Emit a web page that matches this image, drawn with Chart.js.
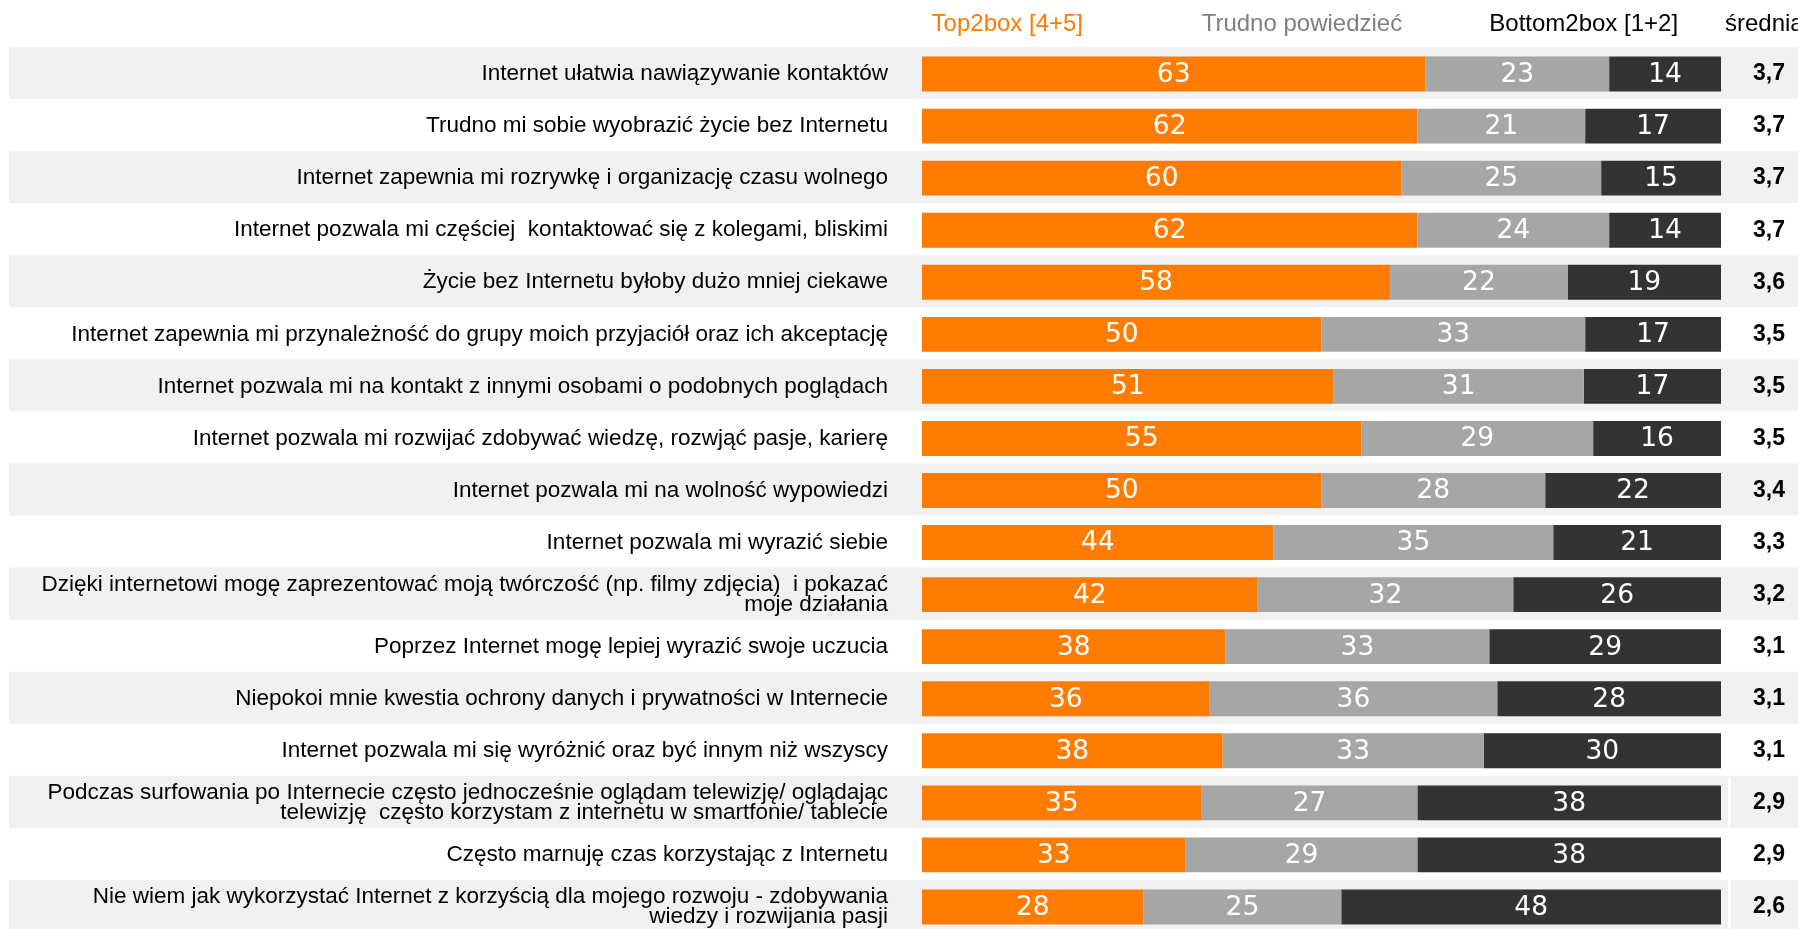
<!DOCTYPE html>
<html>
<head>
<meta charset="utf-8">
<title>Internet - postawy</title>
<script src="https://cdn.jsdelivr.net/npm/chart.js@4.4.0/dist/chart.umd.min.js"></script>
<style>
  html, body { margin: 0; padding: 0; background: #fff; overflow: hidden; }
  #wrap { position: relative; width: 1798px; height: 933px; }
</style>
</head>
<body>
<div id="wrap"><canvas id="chart"></canvas></div>
<script>
var statements = [
  "Internet ułatwia nawiązywanie kontaktów",
  "Trudno mi sobie wyobrazić życie bez Internetu",
  "Internet zapewnia mi rozrywkę i organizację czasu wolnego",
  "Internet pozwala mi częściej  kontaktować się z kolegami, bliskimi",
  "Życie bez Internetu byłoby dużo mniej ciekawe",
  "Internet zapewnia mi przynależność do grupy moich przyjaciół oraz ich akceptację",
  "Internet pozwala mi na kontakt z innymi osobami o podobnych poglądach",
  "Internet pozwala mi rozwijać zdobywać wiedzę, rozwjąć pasje, karierę",
  "Internet pozwala mi na wolność wypowiedzi",
  "Internet pozwala mi wyrazić siebie",
  ["Dzięki internetowi mogę zaprezentować moją twórczość (np. filmy zdjęcia)  i pokazać", "moje działania"],
  "Poprzez Internet mogę lepiej wyrazić swoje uczucia",
  "Niepokoi mnie kwestia ochrony danych i prywatności w Internecie",
  "Internet pozwala mi się wyróżnić oraz być innym niż wszyscy",
  ["Podczas surfowania po Internecie często jednocześnie oglądam telewizję/ oglądając", "telewizję  często korzystam z internetu w smartfonie/ tablecie"],
  "Często marnuję czas korzystając z Internetu",
  ["Nie wiem jak wykorzystać Internet z korzyścią dla mojego rozwoju - zdobywania", "wiedzy i rozwijania pasji"]
];

var top2box    = [63, 62, 60, 62, 58, 50, 51, 55, 50, 44, 42, 38, 36, 38, 35, 33, 28];
var trudno     = [23, 21, 25, 24, 22, 33, 31, 29, 28, 35, 32, 33, 36, 33, 27, 29, 25];
var bottom2box = [14, 17, 15, 14, 19, 17, 17, 16, 22, 21, 26, 29, 28, 30, 38, 38, 48];
var srednia    = ["3,7", "3,7", "3,7", "3,7", "3,6", "3,5", "3,5", "3,5", "3,4", "3,3", "3,2", "3,1", "3,1", "3,1", "2,9", "2,9", "2,6"];

var seriesNames = ["Top2box [4+5]", "Trudno powiedzieć", "Bottom2box [1+2]"];
var sredniaTitle = "średnia";

var colors = ["#ff7c00", "#a6a6a6", "#333333"];
var headerColors = ["#ff7c00", "#808080", "#000000", "#000000"];

// 100% stacked: each row is scaled to its own total
function share(arr, i) {
  var total = top2box[i] + trudno[i] + bottom2box[i];
  return arr[i] / total * 100;
}
function shares(arr) {
  return arr.map(function(v, i) { return share(arr, i); });
}
var rawValues = [top2box, trudno, bottom2box];

var bandsPlugin = {
  id: "bands",
  beforeDraw: function(chart) {
    var ctx = chart.ctx;
    var ys = chart.scales.y;
    var slot = (ys.bottom - ys.top) / statements.length;
    ctx.save();
    ctx.fillStyle = "#f1f1f1";
    for (var i = 0; i < statements.length; i += 2) {
      var yc = ys.getPixelForValue(i);
      ctx.fillRect(9, yc - slot / 2 - 1, chart.width - 9, slot);
    }
    // thin white divider before the "średnia" column in the lower rows
    ctx.fillStyle = "#ffffff";
    var top14 = ys.getPixelForValue(14) - slot / 2;
    ctx.fillRect(chart.chartArea.right + 7, top14, 3, ys.bottom - top14);
    ctx.restore();
  }
};

var headerPlugin = {
  id: "header",
  afterDraw: function(chart) {
    var ctx = chart.ctx;
    var xs = chart.scales.x;
    var names = seriesNames.concat([sredniaTitle]);
    var pos = [xs.getPixelForValue(1.2), xs.getPixelForValue(35), xs.getPixelForValue(71), chart.chartArea.right + 4];
    ctx.save();
    ctx.font = "24px 'Liberation Sans', Arial, sans-serif";
    ctx.textAlign = "left";
    ctx.textBaseline = "middle";
    for (var i = 0; i < names.length; i++) {
      ctx.fillStyle = headerColors[i];
      ctx.fillText(names[i], pos[i], 24);
    }
    ctx.restore();
  }
};

var valueLabels = {
  id: "valueLabels",
  afterDatasetsDraw: function(chart) {
    var ctx = chart.ctx;
    ctx.save();
    ctx.font = "26.5px 'DejaVu Sans', Verdana, sans-serif";
    ctx.fillStyle = "#ffffff";
    ctx.textAlign = "center";
    ctx.textBaseline = "middle";
    chart.data.datasets.forEach(function(ds, d) {
      chart.getDatasetMeta(d).data.forEach(function(bar, i) {
        var cx = (bar.x + bar.base) / 2;
        ctx.fillText(String(rawValues[d][i]), cx, bar.y + 1);
      });
    });
    ctx.restore();
  }
};

// tick padding is meant only sideways; drop the vertical room Chart.js reserves for it
function noVerticalPadding(scale) {
  scale.paddingTop = 0;
  scale.paddingBottom = 0;
}

var chart = new Chart(document.getElementById("chart").getContext("2d"), {
  type: "bar",
  data: {
    labels: statements,
    datasets: [
      { label: seriesNames[0], data: shares(top2box), backgroundColor: colors[0] },
      { label: seriesNames[1], data: shares(trudno), backgroundColor: colors[1] },
      { label: seriesNames[2], data: shares(bottom2box), backgroundColor: colors[2] }
    ]
  },
  options: {
    indexAxis: "y",
    responsive: true,
    maintainAspectRatio: false,
    animation: false,
    layout: { padding: { top: 48, bottom: 0, left: 0, right: 0 } },
    datasets: {
      bar: { categoryPercentage: 1, barPercentage: 0.67, borderWidth: 0 }
    },
    scales: {
      x: { stacked: true, display: false, min: 0, max: 100 },
      y: {
        stacked: true,
        grid: { display: false, drawTicks: false },
        border: { display: false },
        ticks: {
          autoSkip: false,
          padding: 34,
          color: "#000000",
          font: { family: "'Liberation Sans', Arial, sans-serif", size: 22.5, lineHeight: 0.88 }
        },
        afterFit: function(scale) { scale.width = 922; noVerticalPadding(scale); }
      },
      y2: {
        type: "category",
        labels: srednia,
        position: "right",
        offset: true,
        grid: { display: false, drawTicks: false },
        border: { display: false },
        ticks: {
          autoSkip: false,
          padding: 32,
          color: "#000000",
          font: { family: "'Liberation Sans', Arial, sans-serif", size: 23, weight: "bold" }
        },
        afterFit: function(scale) { scale.width = 77; noVerticalPadding(scale); }
      }
    },
    plugins: {
      legend: { display: false },
      tooltip: { enabled: false }
    }
  },
  plugins: [bandsPlugin, headerPlugin, valueLabels]
});
</script>
</body>
</html>
